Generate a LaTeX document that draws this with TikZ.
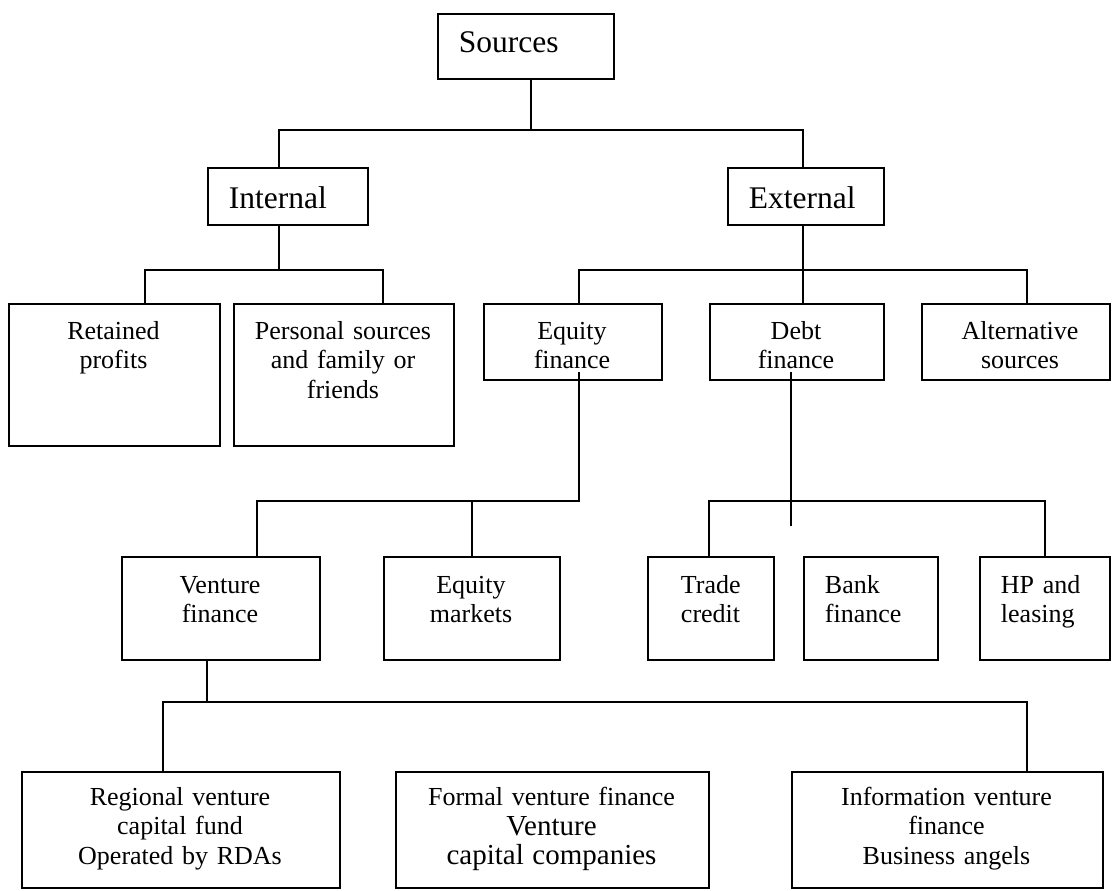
\documentclass[tikz,border=0pt]{standalone}
\usepackage{fontspec}
\setmainfont{Liberation Serif}
\begin{document}
\begin{tikzpicture}[x=1pt,y=-1pt,
  line width=1.9pt, line cap=rect,
  box/.style={draw, line width=1.9pt, inner sep=0pt, anchor=north west},
  big/.style={font=\fontsize{31.5}{34}\selectfont, inner sep=0pt, anchor=base west},
  ctext/.style={font=\fontsize{26}{29.5}\selectfont, inner sep=0pt, anchor=base,
                text width=#1, align=center},
  ltext/.style={font=\fontsize{26}{29.5}\selectfont, inner sep=0pt, anchor=base west,
                text width=120pt, align=left}]
\useasboundingbox (0,0) rectangle (1112,891);

% level 0 and 1
\node[box, minimum width=176pt, minimum height=65pt] (src) at (437,13) {};
\node[big] (src-t) at (458,53) {Sources};
\node[box, minimum width=160pt, minimum height=57pt] (int) at (207,167) {};
\node[big] (int-t) at (228,208) {Internal};
\node[box, minimum width=156pt, minimum height=57pt] (ext) at (727,167) {};
\node[big] (ext-t) at (748,208) {External};

% level 2
\node[box, minimum width=211pt, minimum height=142pt] (ret) at (8,303) {};
\node[ctext=200pt] (ret-t) at (113.5,339) {Retained\\profits};
\node[box, minimum width=220pt, minimum height=142pt] (per) at (233,303) {};
\node[ctext=215pt] (per-t) at (343,339) {Personal sources\\and family or\\friends};
\node[box, minimum width=178pt, minimum height=76pt] (eq) at (483,303) {};
\node[ctext=170pt] (eq-t) at (572,339) {Equity\\finance};
\node[box, minimum width=174pt, minimum height=76pt] (debt) at (709,303) {};
\node[ctext=170pt] (debt-t) at (796,339) {Debt\\finance};
\node[box, minimum width=188pt, minimum height=76pt] (alt) at (921,303) {};
\node[ctext=180pt] (alt-t) at (1020,339) {Alternative\\sources};

% level 3
\node[box, minimum width=198pt, minimum height=103pt] (vf) at (121,556) {};
\node[ctext=190pt] (vf-t) at (220,593) {Venture\\finance};
\node[box, minimum width=176pt, minimum height=103pt] (eqm) at (383,556) {};
\node[ctext=170pt] (eqm-t) at (471,593) {Equity\\markets};
\node[box, minimum width=126pt, minimum height=103pt] (tc) at (647,556) {};
\node[ltext] (tc-t) at (680,593) {Trade\\credit};
\node[box, minimum width=134pt, minimum height=103pt] (bf) at (803,556) {};
\node[ltext] (bf-t) at (824,593) {Bank\\finance};
\node[box, minimum width=130pt, minimum height=103pt] (hp) at (979,556) {};
\node[ltext] (hp-t) at (1000,593) {HP and\\leasing};

% level 4
\node[box, minimum width=318pt, minimum height=116pt] (rg) at (21,771) {};
\node[ctext=310pt] (rg-t) at (180,805) {Regional venture\\capital fund\\Operated by RDAs};
\node[box, minimum width=313pt, minimum height=116pt] (fm) at (395,771) {};
\node[ctext=305pt] (fm-t) at (551.5,805) {Formal venture finance\\\fontsize{29}{30}\selectfont Venture\\capital companies};
\node[box, minimum width=311pt, minimum height=116pt] (inf) at (791,771) {};
\node[ctext=305pt] (inf-t) at (946.5,805) {Information venture\\finance\\Business angels};

% junction points and stem ends
\coordinate (j0) at (531,130);
\coordinate (ji) at (279,270);
\coordinate (je) at (803,270);
\coordinate (eqtail) at (579,373);
\coordinate (jq) at (579,501);
\coordinate (dtail) at (791,373);
\coordinate (dstub) at (791,525);
\coordinate (jd) at (791,501);
\coordinate (jv) at (207,702);

% Sources to Internal / External
\draw (src.south -| j0) -- (j0);
\draw (int.north -| 279,0) |- (j0) -| (ext.north -| 803,0);

% Internal branch
\draw (int.south -| ji) -- (ji);
\draw (ret.north -| 145,0) |- (ji) -| (per.north -| 383,0);

% External branch
\draw (ext.south -| je) -- (je);
\draw (eq.north -| 579,0) |- (je) -| (alt.north -| 1027,0);
\draw (je) -- (debt.north -| je);

% Equity finance branch
\draw (eqtail) -- (jq) -| (vf.north -| 257,0);
\draw (eqm.north) -- (eqm.north |- jq);

% Debt finance branch
\draw (dtail) -- (dstub);
\draw (tc.north -| 709,0) |- (jd) -| (hp.north -| 1045,0);
\draw (bf.north -| 863,0) -- (bf.north -| 863,0 |- jd);

% Venture finance branch
\draw (vf.south -| jv) -- (jv);
\draw (rg.north -| 163,0) |- (jv) -| (inf.north -| 1027,0);
\draw (fm.north -| 591,0) -- (fm.north -| 591,0 |- jv);
\end{tikzpicture}
\end{document}
